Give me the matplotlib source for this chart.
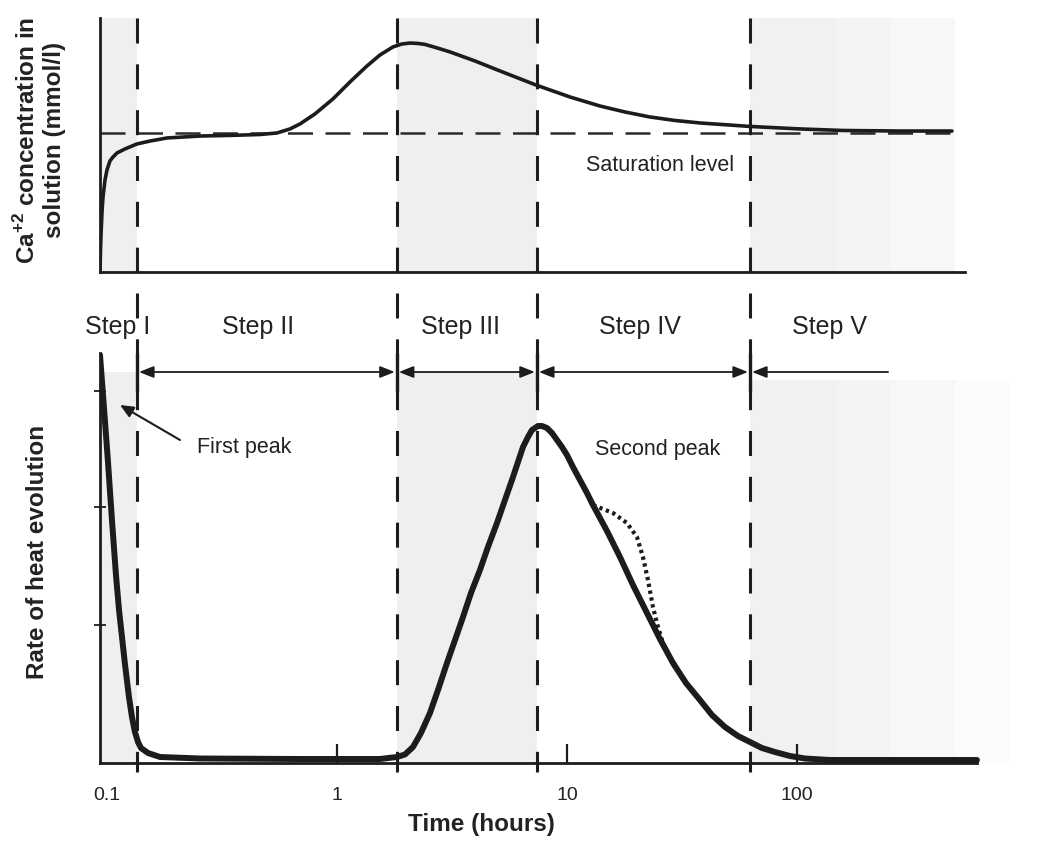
import matplotlib
matplotlib.use("Agg")
import matplotlib.pyplot as plt
from matplotlib.ticker import NullLocator

plt.rcParams['font.family'] = ['Liberation Sans', 'DejaVu Sans']
plt.rcParams['mathtext.fontset'] = 'custom'
plt.rcParams['mathtext.rm'] = 'Liberation Sans:bold'
plt.rcParams['mathtext.bf'] = 'Liberation Sans:bold'
plt.rcParams['lines.scale_dashes'] = False

INK = '#1c1c1c'
SHADE = '#efefef'

# Ca+2 concentration in solution (relative to saturation), time in hours
time_ca = [0.09324, 0.09371, 0.09418, 0.09513, 0.09608, 0.09802, 0.1000, 0.1030,
           0.1062, 0.1105, 0.1197, 0.1350, 0.1538, 0.1823, 0.2537, 0.3530,
           0.4627, 0.5484, 0.6246, 0.6905, 0.8024, 0.9607, 1.139, 1.350, 1.538,
           1.752, 1.917, 2.077, 2.250, 2.413, 2.721, 3.100, 3.981, 5.114, 7.333,
           10.30, 13.92, 17.87, 22.96, 29.48, 37.86, 62.47, 103.0, 158.5, 280.4,
           472.1]
ca_conc = [0.0, 0.158, 0.266, 0.432, 0.540, 0.662, 0.734, 0.799,
           0.827, 0.856, 0.885, 0.921, 0.942, 0.964, 0.978, 0.983,
           0.989, 1.0, 1.029, 1.065, 1.137, 1.245, 1.367, 1.482, 1.561,
           1.619, 1.640, 1.647, 1.644, 1.637, 1.612, 1.583, 1.518, 1.446, 1.345,
           1.259, 1.194, 1.151, 1.115, 1.090, 1.072, 1.047, 1.029, 1.018, 1.014,
           1.014]
saturation = 1.0

# rate of heat evolution (arbitrary units)
time_heat = [0.09324, 0.09704, 0.1010, 0.1051, 0.1094, 0.1128, 0.1162, 0.1197,
             0.1246, 0.1284, 0.1323, 0.1364, 0.1405, 0.1508,
             0.1700, 0.2537, 0.6905, 1.538, 1.823, 1.975, 2.140, 2.318, 2.537,
             2.749, 3.008, 3.260, 3.531, 3.825, 4.185, 4.534, 4.963, 5.376,
             5.825, 6.124, 6.439, 6.768, 7.045, 7.481, 7.787, 8.187, 8.607,
             9.049, 9.512, 10.0, 10.62, 11.39, 12.22, 12.97, 14.93, 17.00,
             19.36, 22.28, 25.37, 28.90, 32.92, 37.86, 42.70, 48.64, 55.40,
             62.47, 70.44, 80.23, 93.24, 108.3, 139.2, 280.4, 606.2]
heat_rate = [10.2, 8.875, 7.525, 6.075, 4.7, 3.825, 3.15, 2.475,
             1.65, 1.15, 0.775, 0.525, 0.375, 0.25,
             0.15, 0.1125, 0.1, 0.1, 0.15, 0.2125, 0.4, 0.75, 1.25,
             1.825, 2.5, 3.075, 3.65, 4.25, 4.825, 5.4, 6.0, 6.575,
             7.15, 7.525, 7.9, 8.15, 8.325, 8.425, 8.425, 8.375, 8.25,
             8.075, 7.9, 7.7, 7.4, 7.075, 6.75, 6.45, 5.8, 5.15,
             4.45, 3.75, 3.1, 2.5, 2.0, 1.575, 1.2, 0.9, 0.675,
             0.525, 0.375, 0.275, 0.175, 0.1125, 0.075, 0.075, 0.075]

# alternative (dotted) course of the deceleration period
time_alt = [12.97, 15.85, 18.23, 20.15, 21.40, 22.50, 23.65, 24.87, 26.15, 28.04, 30.08]
heat_alt = [6.45, 6.25, 6.0, 5.65, 5.15, 4.575, 3.9, 3.4, 3.0, 2.65, 2.38]

step_bounds = [0.135, 1.82, 7.4, 62.5]
step_names = ['Step I', 'Step II', 'Step III', 'Step IV', 'Step V']
step_label_x = [0.111, 0.453, 3.46, 20.8, 139]
step_v_end = 249
fade_edges = [62.5, 146, 254, 486, 844]
fade_colors = ['#f1f1f1', '#f4f4f4', '#f7f7f7', '#fbfbfb']

x_ticks = [0.1, 1, 10, 100]
x_tick_labels = ['0.1', '1', '10', '100']
heat_ticks = [3.45, 6.4, 9.3]

t_min, t_max = 0.09324, 844

W, H = 1038, 843
fig = plt.figure(figsize=(W / 100, H / 100), dpi=100)


def box(x0, y0, x1, y1):
    # pixel box measured from the top-left corner -> figure fraction
    return [x0 / W, 1 - y1 / H, (x1 - x0) / W, (y1 - y0) / H]


ax_ca = fig.add_axes(box(100, 18, 1010, 272))
ax_q = fig.add_axes(box(100, 353, 1010, 763))
ov = fig.add_axes(box(100, 0, 1010, 843), zorder=5)

for ax in (ax_ca, ax_q, ov):
    ax.set_xscale('log')
    ax.set_xlim(t_min, t_max)
    ax.xaxis.set_minor_locator(NullLocator())

for ax in (ax_ca, ax_q):
    ax.spines[['top', 'right']].set_visible(False)
    for side in ('left', 'bottom'):
        ax.spines[side].set_linewidth(2.0)
        ax.spines[side].set_color(INK)
    ax.patch.set_alpha(0)

# ---- top: calcium concentration ----
ax_ca.set_ylim(0, 1.827)
ax_ca.spines['bottom'].set_bounds(t_min, 538)
ax_ca.tick_params(left=False, bottom=False, labelleft=False, labelbottom=False)
ax_ca.axvspan(t_min, step_bounds[0], color=SHADE, lw=0, zorder=0)
ax_ca.axvspan(step_bounds[1], step_bounds[2], color=SHADE, lw=0, zorder=0)
for i in range(3):
    ax_ca.axvspan(fade_edges[i], fade_edges[i + 1], color=fade_colors[i], lw=0, zorder=0)

ax_ca.plot([time_ca[0], time_ca[-1]], [saturation, saturation], color='#2a2a2a',
           lw=1.8, ls=(0, (18, 9)), zorder=2)
ax_ca.plot(time_ca, ca_conc, color=INK, lw=2.6, solid_capstyle='round',
           solid_joinstyle='round', zorder=3)
ax_ca.text(12.1, 0.763, 'Saturation level', fontsize=15.5, color='#222222',
           ha='left', va='center')
ax_ca.set_ylabel('Ca$^{+2}$ concentration in\nsolution (mmol/l)', fontsize=17.5,
                 fontweight='bold', color='#222222', linespacing=1.15,
                 ha='center', va='center')
ax_ca.yaxis.set_label_coords(-0.0659, 0.52)

# ---- bottom: heat evolution ----
ax_q.set_ylim(0, 10.25)
ax_q.spines['bottom'].set_bounds(t_min, 606)
shade_top = 9.78
ax_q.fill_between([t_min, step_bounds[0]], 0, shade_top, color=SHADE, lw=0, zorder=0)
ax_q.fill_between([step_bounds[1], step_bounds[2]], 0, shade_top, color=SHADE, lw=0, zorder=0)
for i in range(4):
    ax_q.fill_between([fade_edges[i], fade_edges[i + 1]], 0, 9.575,
                      color=fade_colors[i], lw=0, zorder=0)

ax_q.plot(time_alt, heat_alt, color=INK, lw=3.0, ls=(0, (2.4, 2.6)), zorder=3)
ax_q.plot(time_heat, heat_rate, color=INK, lw=4.3, solid_capstyle='round',
          solid_joinstyle='round', zorder=4)

ax_q.set_xticks(x_ticks, x_tick_labels)
ax_q.tick_params(axis='x', direction='in', length=14, width=1.6, pad=17,
                 labelsize=14, color=INK, labelcolor='#222222')
ax_q.xaxis.get_major_ticks()[0].tick1line.set_visible(False)
ax_q.set_yticks(heat_ticks)
ax_q.tick_params(axis='y', direction='inout', length=9, width=1.3,
                 labelleft=False, color=INK)

ax_q.annotate('', xy=(0.1139, 8.95), xytext=(0.2077, 8.075),
              arrowprops=dict(arrowstyle='-|>,head_length=0.5,head_width=0.22',
                              color=INK, lw=1.5, shrinkA=0, shrinkB=0,
                              mutation_scale=16))
ax_q.text(0.246, 7.875, 'First peak', fontsize=15.5, color='#222222', va='center')
ax_q.text(13.2, 7.825, 'Second peak', fontsize=15.5, color='#222222', va='center')

ax_q.set_xlabel('Time (hours)', fontsize=17.5, fontweight='bold', color='#222222',
                va='center')
ax_q.xaxis.set_label_coords(0.4187, -0.151)
ax_q.set_ylabel('Rate of heat evolution', fontsize=17.5, fontweight='bold',
                color='#222222', ha='center', va='center')
ax_q.yaxis.set_label_coords(-0.0692, 0.5146)

# ---- step boundaries, arrows and labels across both panels ----
ov.set_ylim(H, 0)
ov.axis('off')
arrow_y = 372
for b in step_bounds:
    ov.plot([b, b], [18, 772], color=INK, lw=2.2, ls=(0, (18, 15)))
    ov.plot([b, b], [355, 390], color=INK, lw=2.4)

both = '<|-|>,head_length=0.55,head_width=0.22'
for a, b in zip(step_bounds[:-1], step_bounds[1:]):
    ov.annotate('', xy=(b, arrow_y), xytext=(a, arrow_y),
                arrowprops=dict(arrowstyle=both, color=INK, lw=1.3,
                                shrinkA=1.5, shrinkB=1.5, mutation_scale=16))
ov.annotate('', xy=(step_bounds[-1], arrow_y), xytext=(step_v_end, arrow_y),
            arrowprops=dict(arrowstyle='-|>,head_length=0.55,head_width=0.22',
                            color=INK, lw=1.3, shrinkA=0, shrinkB=1.5,
                            mutation_scale=16))

for x, name in zip(step_label_x, step_names):
    ov.text(x, 327, name, fontsize=18, color='#222222', ha='center', va='center')

fig.savefig('out.png', dpi=100)
